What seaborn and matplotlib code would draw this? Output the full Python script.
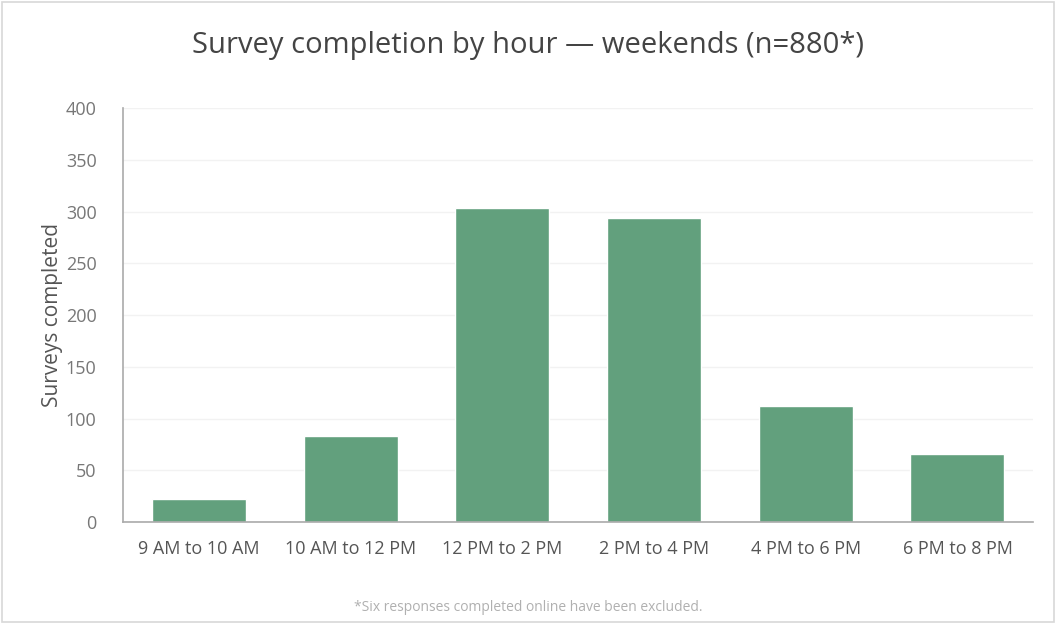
import matplotlib
matplotlib.use('Agg')
import matplotlib.pyplot as plt
import seaborn as sns
import pandas as pd
from matplotlib.patches import Rectangle

hours = ['9 AM to 10 AM', '10 AM to 12 PM', '12 PM to 2 PM',
         '2 PM to 4 PM', '4 PM to 6 PM', '6 PM to 8 PM']
surveys = [22, 83, 303, 294, 112, 66]
yticks = [0, 50, 100, 150, 200, 250, 300, 350, 400]

df = pd.DataFrame({'hour': hours, 'surveys': surveys})

sns.set_theme(style='white')
plt.rcParams['font.family'] = ['Open Sans', 'DejaVu Sans']

fig = plt.figure(figsize=(10.56, 6.24), dpi=100)
ax = fig.add_axes([0.1165, 0.163, 0.862, 0.664])

sns.barplot(data=df, x='hour', y='surveys', color='#62a07d', saturation=1,
            width=0.62, ax=ax)

ax.set_ylim(0, 400)
ax.set_yticks(yticks)
ax.tick_params(axis='y', labelsize=13, labelcolor='#777777', length=0, pad=19)
ax.tick_params(axis='x', labelsize=13, labelcolor='#555555', length=0, pad=13)
ax.set_xlabel('')
ax.set_ylabel('Surveys completed', fontsize=15, color='#555555', labelpad=2)
ax.yaxis.grid(True, color='#f2f2f2', linewidth=1)
ax.set_axisbelow(True)
sns.despine(ax=ax)
for s in ['left', 'bottom']:
    ax.spines[s].set_color('#aaaaaa')
    ax.spines[s].set_linewidth(1.2)

fig.text(0.5, 0.927, 'Survey completion by hour \u2014 weekends (n=880*)',
         ha='center', va='center', fontsize=21, color='#444444')
fig.text(0.5, 0.027, '*Six responses completed online have been excluded.',
         ha='center', va='center', fontsize=10, color='#b0b0b0')

fig.patches.append(Rectangle((0.002, 0.003), 0.996, 0.994, transform=fig.transFigure,
                             fill=False, edgecolor='#d8d8d8', linewidth=1.2))

fig.savefig('out.png', dpi=100)
